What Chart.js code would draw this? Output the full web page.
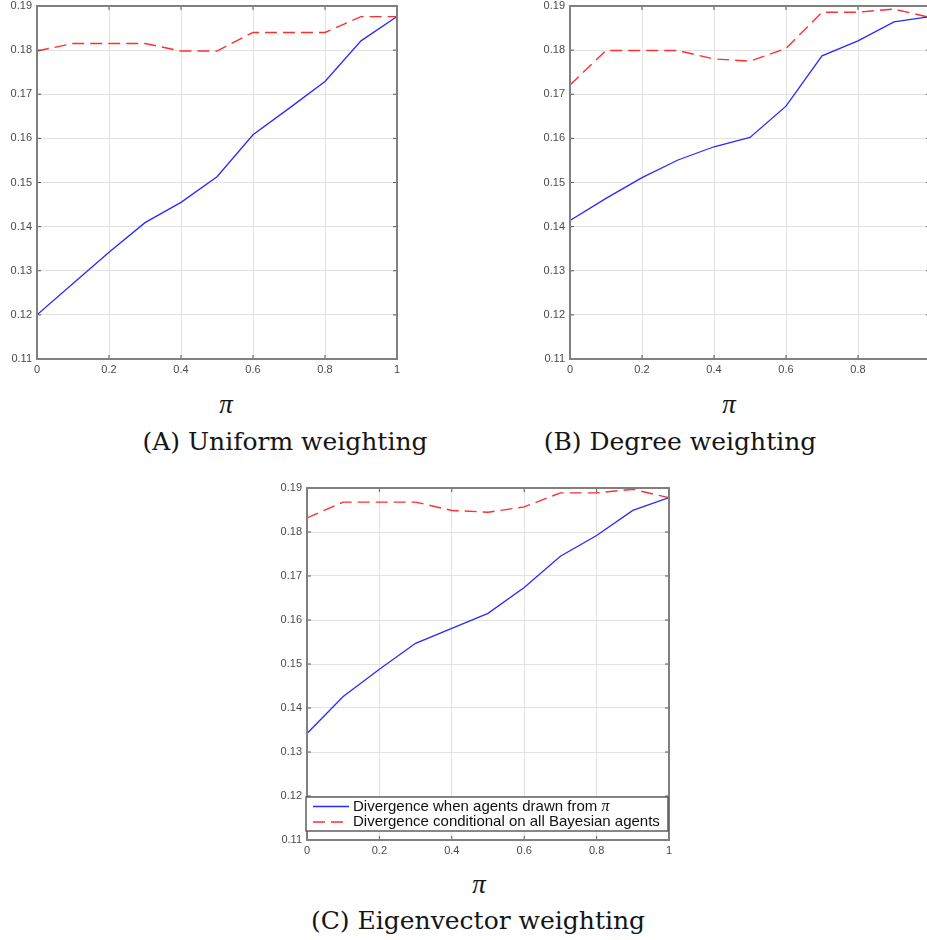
<!DOCTYPE html>
<html><head><meta charset="utf-8">
<script src="https://cdn.jsdelivr.net/npm/chart.js@4/dist/chart.umd.min.js"></script>
<style>
html,body{margin:0;padding:0;background:#fff;overflow:hidden;width:927px;height:940px;position:relative;}
canvas{position:absolute;}
.cap{position:absolute;font-family:"DejaVu Serif",serif;font-size:25px;color:#151515;white-space:nowrap;transform:translateX(-50%);line-height:30px;}
.pi{position:absolute;font-family:"Liberation Serif",serif;font-style:italic;font-size:27px;color:#151515;transform:translateX(-50%);line-height:30px;}
</style></head><body>
<canvas id="cA" width="410" height="382" style="left:0;top:0"></canvas>
<canvas id="cB" width="410" height="382" style="left:533px;top:0"></canvas>
<canvas id="cC" width="412" height="383" style="left:270px;top:480px"></canvas>
<div class="pi" style="left:226px;top:389px">π</div>
<div class="cap" style="left:285px;top:427px">(A) Uniform weighting</div>
<div class="pi" style="left:729px;top:389px">π</div>
<div class="cap" style="left:680px;top:427px">(B) Degree weighting</div>
<div class="pi" style="left:479px;top:869px">π</div>
<div class="cap" style="left:478px;top:906px">(C) Eigenvector weighting</div>
<script>
// ---- data ----
const piGrid = [0, 0.1, 0.2, 0.3, 0.4, 0.5, 0.6, 0.7, 0.8, 0.9, 1.0];

const uniformDrawn  = [0.1200, 0.1271, 0.1342, 0.1409, 0.1455, 0.1513, 0.1608, 0.1668, 0.1729, 0.1821, 0.1876];
const uniformBayes  = [0.1798, 0.1815, 0.1815, 0.1815, 0.1798, 0.1798, 0.1840, 0.1840, 0.1840, 0.1876, 0.1876];

const degreeDrawn   = [0.1414, 0.1464, 0.1511, 0.1551, 0.1581, 0.1602, 0.1673, 0.1787, 0.1821, 0.1864, 0.1876];
const degreeBayes   = [0.1721, 0.1799, 0.1799, 0.1799, 0.1780, 0.1775, 0.1804, 0.1886, 0.1886, 0.1893, 0.1874];

const eigenDrawn    = [0.1342, 0.1426, 0.1488, 0.1547, 0.1581, 0.1615, 0.1674, 0.1745, 0.1792, 0.1849, 0.1878];
const eigenBayes    = [0.1832, 0.1868, 0.1868, 0.1868, 0.1849, 0.1845, 0.1857, 0.1889, 0.1889, 0.1897, 0.1878];

const xTickValues = [0, 0.2, 0.4, 0.6, 0.8, 1];
const xTickLabels = ['0', '0.2', '0.4', '0.6', '0.8', '1'];
const yTickValues = [0.11, 0.12, 0.13, 0.14, 0.15, 0.16, 0.17, 0.18, 0.19];
const yTickLabels = ['0.11', '0.12', '0.13', '0.14', '0.15', '0.16', '0.17', '0.18', '0.19'];

const seriesLabels = ['Divergence when agents drawn from π', 'Divergence conditional on all Bayesian agents'];

// ---- styling ----
const BLUE = '#2a2aff';
const RED = '#ff2f2f';
const TICK_COLOR = '#4a4a4a';
const GRID_COLOR = '#e2e2e2';
const FRAME_COLOR = '#808080';

const framePlugin = {
  id: 'frame',
  afterDatasetsDraw(chart) {
    const {ctx, chartArea: a, scales} = chart;
    const x = scales.x, y = scales.y;
    ctx.save();
    ctx.strokeStyle = '#555';
    ctx.lineWidth = 1;
    ctx.beginPath();
    x.ticks.forEach(t => {
      const px = x.getPixelForValue(t.value);
      ctx.moveTo(px, a.bottom); ctx.lineTo(px, a.bottom - 4);
      ctx.moveTo(px, a.top); ctx.lineTo(px, a.top + 4);
    });
    y.ticks.forEach(t => {
      const py = y.getPixelForValue(t.value);
      ctx.moveTo(a.left, py); ctx.lineTo(a.left + 4, py);
      ctx.moveTo(a.right, py); ctx.lineTo(a.right - 4, py);
    });
    ctx.stroke();
    ctx.strokeStyle = FRAME_COLOR;
    ctx.lineWidth = 2;
    ctx.strokeRect(a.left, a.top, a.right - a.left, a.bottom - a.top);
    ctx.restore();
  }
};

const insideLegendPlugin = {
  id: 'insideLegend',
  afterDraw(chart, args, opts) {
    if (!opts || !opts.show) return;
    const {ctx, chartArea: a} = chart;
    const top = a.bottom - 43, bottom = a.bottom - 9;
    const left = a.left - 1, right = a.right - 1;
    ctx.save();
    ctx.fillStyle = '#fff';
    ctx.fillRect(left, top, right - left, bottom - top);
    ctx.strokeStyle = '#555';
    ctx.lineWidth = 1.4;
    ctx.strokeRect(left, top, right - left, bottom - top);
    const rows = [top + 9.5, top + 25];
    chart.data.datasets.forEach((ds, i) => {
      const yy = rows[i];
      ctx.strokeStyle = ds.borderColor;
      ctx.lineWidth = ds.borderWidth;
      ctx.setLineDash(ds.borderDash || []);
      ctx.beginPath();
      ctx.moveTo(left + 7, yy); ctx.lineTo(left + 43, yy);
      ctx.stroke();
      ctx.setLineDash([]);
      ctx.fillStyle = '#111';
      ctx.textBaseline = 'middle';
      ctx.textAlign = 'left';
      let label = ds.label;
      let tx = left + 47;
      let tail = '';
      if (label.endsWith('π')) { tail = 'π'; label = label.slice(0, -1); }
      ctx.font = '15px "Liberation Sans", Arial, sans-serif';
      ctx.fillText(label, tx, yy);
      if (tail) {
        const w = ctx.measureText(label).width;
        ctx.font = 'italic 16px "Liberation Serif", serif';
        ctx.fillText(tail, tx + w, yy);
      }
    });
    ctx.restore();
  }
};

function makeChart(id, drawn, bayes, padTop, showLegend) {
  const toPts = vals => piGrid.map((p, i) => ({x: p, y: vals[i]}));
  return new Chart(document.getElementById(id), {
    type: 'line',
    data: {
      datasets: [
        {label: seriesLabels[0], data: toPts(drawn), borderColor: BLUE, borderWidth: 1.3,
         pointRadius: 0, tension: 0, fill: false},
        {label: seriesLabels[1], data: toPts(bayes), borderColor: RED, borderWidth: 1.4,
         borderDash: [12, 6], pointRadius: 0, tension: 0, fill: false}
      ]
    },
    options: {
      responsive: false,
      animation: false,
      devicePixelRatio: 1,
      layout: {padding: {top: padTop, right: 13, left: 0, bottom: 0}},
      plugins: {
        legend: {display: false},
        tooltip: {enabled: false},
        insideLegend: {show: showLegend}
      },
      scales: {
        x: {
          type: 'linear', min: 0, max: 1,
          afterBuildTicks: s => { s.ticks = xTickValues.map(v => ({value: v})); },
          afterFit: s => { s.height = 23; s.paddingLeft = 0; s.paddingRight = 0; },
          ticks: {
            padding: 4, color: TICK_COLOR, maxRotation: 0, autoSkip: false,
            font: {family: '"Liberation Sans", Arial, sans-serif', size: 11},
            callback: (v, i) => xTickLabels[i]
          },
          grid: {color: GRID_COLOR, drawTicks: false, lineWidth: 1},
          border: {display: false}
        },
        y: {
          type: 'linear', min: 0.11, max: 0.19,
          afterBuildTicks: s => { s.ticks = yTickValues.map(v => ({value: v})); },
          afterFit: s => { s.width = 37; s.paddingTop = 0; s.paddingBottom = 0; },
          ticks: {
            padding: 5, color: TICK_COLOR, autoSkip: false,
            font: {family: '"Liberation Sans", Arial, sans-serif', size: 11},
            callback: (v, i) => yTickLabels[i]
          },
          grid: {color: GRID_COLOR, drawTicks: false, lineWidth: 1},
          border: {display: false}
        }
      }
    },
    plugins: [framePlugin, insideLegendPlugin]
  });
}

makeChart('cA', uniformDrawn, uniformBayes, 6, false);
makeChart('cB', degreeDrawn, degreeBayes, 6, false);
makeChart('cC', eigenDrawn, eigenBayes, 8, true);
</script>
</body></html>
